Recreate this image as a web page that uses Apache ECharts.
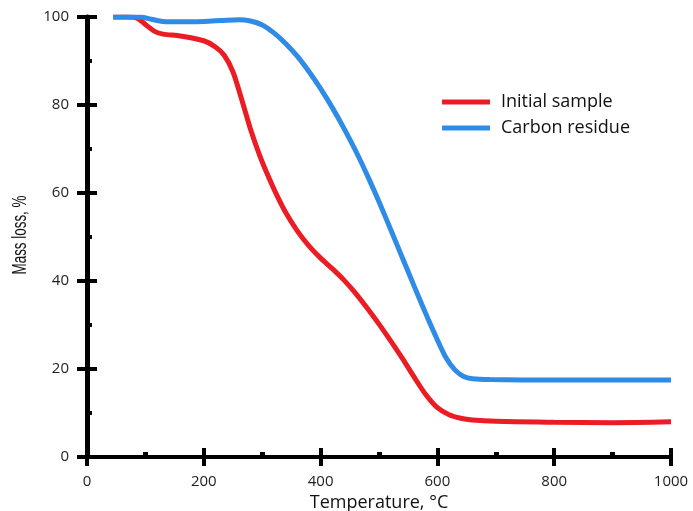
<!DOCTYPE html>
<html>
<head>
<meta charset="utf-8">
<script src="https://cdn.jsdelivr.net/npm/echarts@6/dist/echarts.min.js"></script>
<style>
  html, body { margin: 0; padding: 0; background: #fff; }
  #chart { width: 693px; height: 511px; }
</style>
</head>
<body>
<div id="chart"></div>
<script>
// TGA curves
var tempInitial = [45, 70, 85, 100, 115, 130, 160, 200, 220, 235, 250, 265, 280, 295, 310, 325, 340, 360, 380, 400, 420, 440, 460, 480, 500, 520, 540, 560, 580, 600, 620, 640, 660, 700, 800, 900, 1000];
var massInitial = [100, 100, 99.8, 98.3, 96.8, 96.1, 95.7, 94.6, 93.2, 91.3, 87.5, 81.2, 74.5, 68.8, 63.9, 59.5, 55.6, 51.4, 48, 45.2, 42.8, 40.2, 37.2, 33.8, 30.2, 26.4, 22.4, 18.2, 14.2, 11.2, 9.6, 8.8, 8.4, 8.1, 7.9, 7.8, 8.0];

var tempCarbon = [45, 90, 110, 130, 160, 200, 230, 260, 280, 300, 320, 340, 360, 380, 400, 420, 440, 460, 480, 500, 520, 540, 560, 580, 600, 615, 630, 645, 660, 690, 800, 1000];
var massCarbon = [100, 100, 99.5, 99, 98.9, 99, 99.2, 99.4, 99.1, 98.2, 96.4, 94, 91.1, 87.6, 83.7, 79.4, 74.7, 69.6, 64, 58, 51.7, 45.3, 38.9, 32.6, 26.6, 22.5, 19.8, 18.3, 17.8, 17.6, 17.5, 17.5];

var xTicks = [0, 200, 400, 600, 800, 1000];
var yTicks = [0, 20, 40, 60, 80, 100];

function pairs(xs, ys) {
  var out = [];
  for (var i = 0; i < xs.length; i++) out.push([xs[i], ys[i]]);
  return out;
}

var chart = echarts.init(document.getElementById('chart'));
var font = 'Open Sans';

var option = {
  animation: false,
  grid: { left: 87, right: 22, top: 17, bottom: 54, outerBoundsMode: 'none' },
  legend: {
    left: 437,
    top: 88,
    orient: 'vertical',
    icon: 'rect',
    itemWidth: 48,
    itemHeight: 5,
    itemGap: 8,
    textStyle: { fontFamily: font, fontSize: 18, color: '#111', padding: [0, 0, 0, 6] },
    data: ['Initial sample', 'Carbon residue']
  },
  // y axis title: narrow lettering in the original
  graphic: [{
    type: 'text',
    x: 20, y: 235,
    rotation: Math.PI / 2,
    scaleX: 0.67,
    style: {
      text: 'Mass loss, %',
      font: '20px "Liberation Sans"',
      fill: '#111',
      textAlign: 'center',
      textVerticalAlign: 'middle'
    }
  }],
  xAxis: [
    {
      type: 'value', min: 0, max: 1000, interval: 200,
      name: 'Temperature, \u00b0C', nameLocation: 'middle', nameGap: 34,
      nameTextStyle: { fontFamily: font, fontSize: 18, color: '#111' },
      axisLine: { lineStyle: { color: '#000', width: 4 } },
      axisTick: { length: 9, lineStyle: { color: '#000', width: 4 } },
      axisLabel: { fontFamily: font, fontSize: 15, color: '#222', margin: 17,
        formatter: function (v) { return xTicks.indexOf(v) >= 0 ? v : ''; } },
      splitLine: { show: false }
    },
    {
      type: 'value', min: 0, max: 1000, interval: 200, position: 'bottom',
      axisLine: { show: false },
      axisTick: { inside: true, length: 9, lineStyle: { color: '#000', width: 4 } },
      minorTick: { show: true, splitNumber: 2, length: 5, lineStyle: { color: '#000', width: 5 } },
      axisLabel: { show: false },
      splitLine: { show: false }
    }
  ],
  yAxis: [
    {
      type: 'value', min: 0, max: 100, interval: 20,
      axisLine: { show: true, lineStyle: { color: '#000', width: 5 } },
      axisTick: { show: true, length: 10, lineStyle: { color: '#000', width: 4 } },
      axisLabel: { fontFamily: font, fontSize: 15, color: '#222', margin: 18,
        formatter: function (v) { return yTicks.indexOf(v) >= 0 ? v : ''; } },
      splitLine: { show: false }
    },
    {
      type: 'value', min: 0, max: 100, interval: 20, position: 'left',
      axisLine: { show: false },
      axisTick: { show: true, inside: true, length: 10, lineStyle: { color: '#000', width: 4 } },
      minorTick: { show: true, splitNumber: 2, length: 5, lineStyle: { color: '#000', width: 4 } },
      axisLabel: { show: false },
      splitLine: { show: false }
    }
  ],
  series: [
    {
      name: 'Initial sample', type: 'line', smooth: 0.3, showSymbol: false,
      xAxisIndex: 0, yAxisIndex: 0,
      lineStyle: { color: '#ec1c24', width: 5 }, itemStyle: { color: '#ec1c24' },
      data: pairs(tempInitial, massInitial)
    },
    {
      name: 'Carbon residue', type: 'line', smooth: 0.3, showSymbol: false,
      xAxisIndex: 0, yAxisIndex: 0,
      lineStyle: { color: '#2e8be6', width: 5 }, itemStyle: { color: '#2e8be6' },
      data: pairs(tempCarbon, massCarbon)
    }
  ]
};

chart.setOption(option);
</script>
</body>
</html>
